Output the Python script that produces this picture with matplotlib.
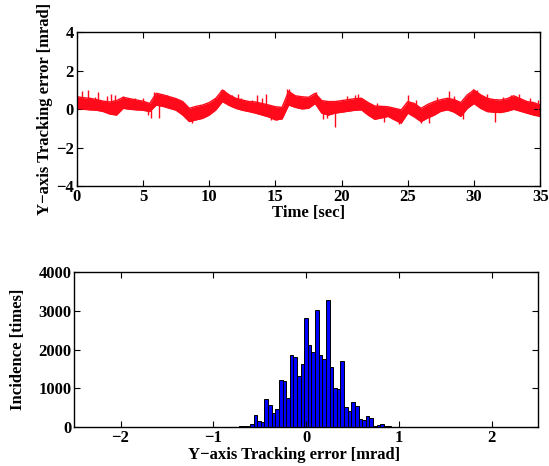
# Tracking error: Zeitverlauf + Histogramm
import numpy as np
import matplotlib.pyplot as plt

plt.rcParams['font.family'] = ['Liberation Serif', 'DejaVu Serif']
plt.rcParams['font.weight'] = 'bold'
plt.rcParams['axes.labelweight'] = 'bold'
plt.rcParams['font.size'] = 12

t = np.arange(71) * 0.5
err_upper = [0.65, 0.60, 0.57, 0.50, 0.42, 0.38, 0.45, 0.62, 0.55, 0.48,
             0.42, 0.30, 0.83, 0.75, 0.65, 0.55, 0.40, 0.05, 0.15, 0.22,
             0.35, 0.57, 1.00, 0.75, 0.57, 0.48, 0.40, 0.38, 0.30, 0.22,
             0.13, 0.10, 0.93, 0.70, 0.65, 0.62, 0.83, 0.45, 0.40, 0.40,
             0.45, 0.50, 0.55, 0.57, 0.35, 0.17, 0.15, 0.13, 0.05, -0.03,
             0.40, 0.30, 0.05, 0.25, 0.40, 0.50, 0.57, 0.50, 0.35, 0.75,
             1.00, 0.75, 0.57, 0.50, 0.48, 0.55, 0.70, 0.55, 0.40, 0.35,
             0.22]
err_lower = [0.05, 0.00, -0.03, -0.05, -0.12, -0.25, -0.30, 0.05, 0.00, -0.03,
             -0.05, -0.12, 0.22, 0.15, 0.05, -0.05, -0.30, -0.64, -0.55, -0.47,
             -0.30, -0.03, 0.40, 0.20, 0.05, -0.05, -0.12, -0.20, -0.30, -0.40,
             -0.55, -0.50, 0.22, 0.10, 0.02, 0.05, 0.30, -0.20, -0.30, -0.20,
             -0.15, -0.10, -0.05, -0.03, -0.30, -0.52, -0.45, -0.37, -0.55, -0.72,
             -0.20, -0.40, -0.64, -0.45, -0.30, -0.10, -0.03, -0.15, -0.37, 0.05,
             0.30, 0.05, -0.12, -0.15, -0.17, -0.10, 0.00, -0.10, -0.20, -0.30,
             -0.37]

# einzelne Ausreißer (Zeit, Spitze)
spike_t = [0.4, 0.86, 1.36, 1.6, 2.24, 2.6, 2.87, 3.5, 4.4, 5.0, 5.4, 5.6,
           5.8, 6.2, 6.8, 7.4, 7.9, 8.7, 9.7, 10.4, 10.9, 11.1, 11.7, 12.2,
           12.4, 13.2, 13.6, 13.96, 14.3, 14.7, 15.1, 15.85, 16.0, 16.6, 17.4,
           18.1, 18.6, 18.9, 19.5, 20.4, 21.0, 21.2, 22.7, 23.2, 24.3, 25.0,
           25.6, 26.0, 26.6, 27.2, 28.1, 28.5, 29.2, 29.9, 30.2, 31.0, 31.6,
           32.2, 32.8, 33.4, 34.2, 34.8]
spike_v = [0.95, 1.00, 0.65, 0.90, 0.69, 0.80, 0.74, 0.70, 0.57, 0.57, -0.30, -0.45,
           0.88, -0.47, 0.74, 0.57, 0.30, -0.70, 0.22, 0.57, 1.00, 1.00, 0.74, 0.80,
           0.57, 0.48, 0.75, 0.57, 0.80, -0.55, -0.55, 1.05, 1.05, 0.65, 0.57,
           0.90, -0.50, -0.45, -0.90, 0.70, 0.75, 0.80, 0.30, -0.65, -0.75, 0.75,
           0.50, -0.70, -0.70, 0.65, 0.95, 0.70, -0.50, 1.05, 1.00, 0.80, -0.65,
           0.65, 0.75, 0.80, 0.60, 0.50]

# Histogramm
bin_width = 0.039
bin_idx = np.arange(-22, 26)
counts = [3, 5, 4, 8, 10, 15, 25, 70, 300, 155, 120, 720, 570, 370, 465,
          1210, 1180, 740, 1865, 1800, 1310, 1630, 2805, 2115, 1935, 3030,
          1855, 1755, 3290, 1545, 1005, 980, 1700, 516, 413, 632, 536, 200,
          170, 284, 220, 35, 50, 65, 17, 12, 8, 3]

fig = plt.figure(figsize=(5.49, 4.66), dpi=100)
ax1 = fig.add_axes([0.140, 0.600, 0.844, 0.331])
ax2 = fig.add_axes([0.135, 0.084, 0.845, 0.332])

red = '#ff0a1a'
# oberer Plot
ax1.fill_between(t, err_lower, err_upper, color=red, linewidth=0)
ax1.plot(t, err_upper, color=red, linewidth=1)
ax1.plot(t, err_lower, color=red, linewidth=1)
mid = np.interp(spike_t, t, (np.array(err_upper) + np.array(err_lower)) / 2)
ax1.vlines(spike_t, mid, spike_v, color=red, linewidth=1)
ax1.set_xlim(0, 35)
ax1.set_ylim(-4, 4)
ax1.set_xticks(range(0, 36, 5))
ax1.set_yticks([-4, -2, 0, 2, 4])
ax1.set_xlabel('Time [sec]', labelpad=0)
ax1.set_ylabel('Y\u2212axis Tracking error [mrad]', labelpad=2)

# unterer Plot
ax2.bar(bin_idx * bin_width, counts, width=bin_width, color='#0000ff',
        edgecolor='black', linewidth=0.7)
ax2.set_xlim(-2.5, 2.5)
ax2.set_ylim(0, 4000)
ax2.set_xticks([-2, -1, 0, 1, 2])
ax2.set_yticks([0, 1000, 2000, 3000, 4000])
ax2.set_xlabel('Y\u2212axis Tracking error [mrad]', labelpad=0)
ax2.xaxis.set_label_coords(0.475, -0.13)
ax2.set_ylabel('Incidence [times]', labelpad=9)

for ax in (ax1, ax2):
    ax.tick_params(direction='in', top=True, right=True, length=4, width=0.8, pad=2)
    for s in ax.spines.values():
        s.set_linewidth(1)

plt.savefig('out.png', dpi=100)
